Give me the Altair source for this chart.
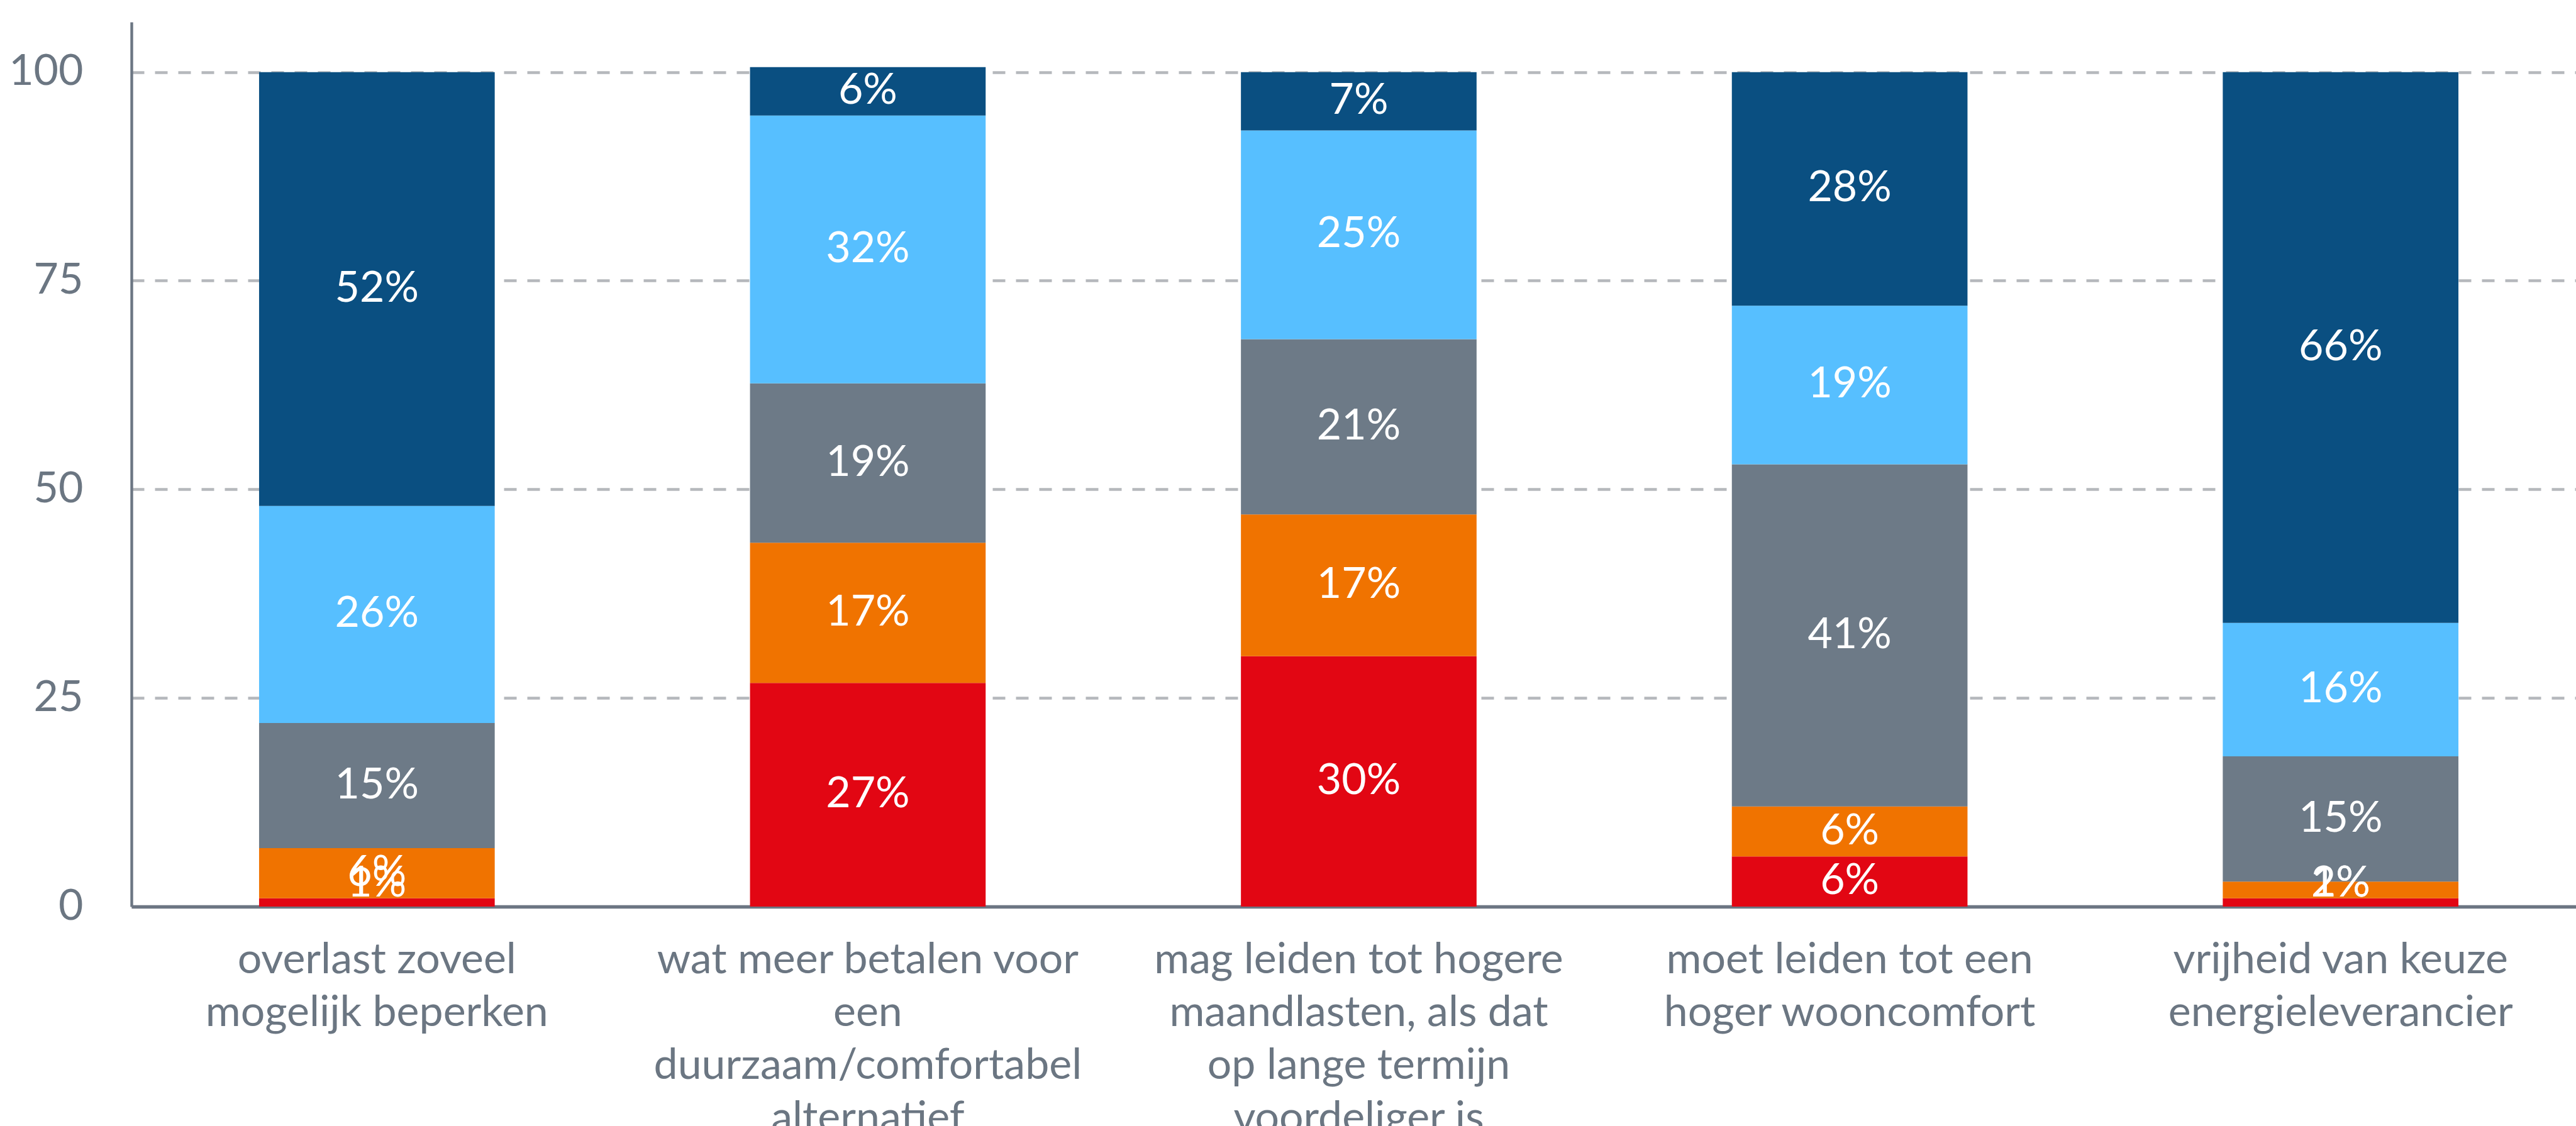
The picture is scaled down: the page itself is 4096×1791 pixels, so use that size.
import altair as alt
import pandas as pd

# --- data -------------------------------------------------------------------
categories = [
    "overlast zoveel|mogelijk beperken",
    "wat meer betalen voor|een|duurzaam/comfortabel|alternatief",
    "mag leiden tot hogere|maandlasten, als dat|op lange termijn|voordeliger is",
    "moet leiden tot een|hoger wooncomfort",
    "vrijheid van keuze|energieleverancier",
]
series_names = ["helemaal oneens", "oneens", "neutraal", "eens", "helemaal eens"]
series_colors = ["#e20613", "#f07300", "#6d7a87", "#57bfff", "#0a4f81"]

red = [1, 26.8, 30, 6, 1]
orange = [6, 16.8, 17, 6, 2]
gray = [15, 19.1, 21, 41, 15]
lightblue = [26, 32.1, 25, 19, 16]
darkblue = [52, 5.8, 7, 28, 66]

y_ticks = [0, 25, 50, 75, 100]

series_values = [red, orange, gray, lightblue, darkblue]
rows = []
for s_idx, (name, vals) in enumerate(zip(series_names, series_values)):
    for cat, v in zip(categories, vals):
        rows.append({"cat": cat, "series": name, "order": s_idx, "value": v})
df = pd.DataFrame(rows)

AXIS_GRAY = "#6c7683"
LABEL_GRAY = "#6b7682"
FONT = "Lato"
FS = 68

x_axis = alt.Axis(
    title=None,
    labelExpr="split(datum.label, '|')",
    labelAngle=0,
    labelFont=FONT,
    labelFontSize=FS,
    labelLineHeight=84,
    labelColor=LABEL_GRAY,
    labelPadding=51,
    labelLimit=0,
    labelOverlap=False,
    ticks=False,
    domainColor=AXIS_GRAY,
    domainWidth=5.3,
    grid=False,
)
y_axis = alt.Axis(
    title=None,
    values=y_ticks,
    labelFont=FONT,
    labelFontSize=FS,
    labelColor=LABEL_GRAY,
    labelPadding=77,
    labelOverlap=False,
    ticks=False,
    domainColor=AXIS_GRAY,
    domainWidth=4.4,
    grid=True,
    gridColor="#b5b8bc",
    gridDash=[20, 17],
    gridWidth=4.4,
)

x_enc = alt.X(
    "cat:N",
    sort=categories,
    scale=alt.Scale(paddingInner=0.52, paddingOuter=0.26, range=[0, 3903]),
    axis=x_axis,
)
y_scale = alt.Scale(domain=[0, 106], nice=False, zero=True)

base = alt.Chart(df).transform_stack(
    stack="value",
    groupby=["cat"],
    sort=[alt.SortField("order", order="ascending")],
    as_=["y0", "y1"],
).transform_calculate(
    mid="max((datum.y0 + datum.y1) / 2, 2.7)",
    label="format(datum.value, '.0f') + '%'",
)

bars = base.mark_bar().encode(
    x=x_enc,
    y=alt.Y("y0:Q", scale=y_scale, axis=y_axis),
    y2="y1:Q",
    color=alt.Color(
        "series:N",
        scale=alt.Scale(domain=series_names, range=series_colors),
        legend=None,
    ),
    order=alt.Order("order:Q"),
)

text = base.mark_text(
    color="white", font=FONT, fontSize=FS, baseline="middle", align="center"
).encode(
    x=x_enc,
    y=alt.Y("mid:Q", scale=y_scale, axis=y_axis),
    text="label:N",
)

chart = (
    alt.layer(bars, text)
    .properties(
        width=3887,
        height=1407,
        padding={"left": 209, "top": 35, "right": 0, "bottom": 349},
        autosize=alt.AutoSizeParams(type="none"),
        background="white",
    )
    .configure_view(stroke=None)
)

chart.save("out.html", embed_options={"renderer": "svg", "actions": False})
